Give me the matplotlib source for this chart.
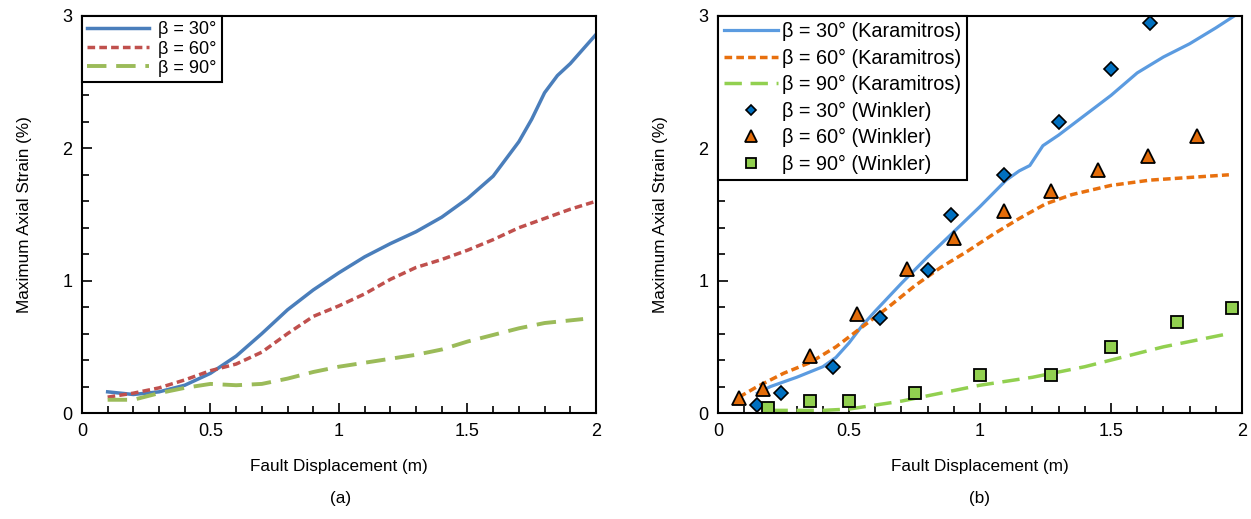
import matplotlib
matplotlib.use('Agg')
import matplotlib.pyplot as plt
from matplotlib.ticker import MultipleLocator

plt.rcParams['font.family'] = ['Liberation Sans', 'DejaVu Sans']
plt.rcParams['font.size'] = 12

# --- panel (a) data ---
xa_30 = [0.1, 0.2, 0.3, 0.4, 0.5, 0.6, 0.7, 0.8, 0.9, 1.0, 1.1, 1.2, 1.3, 1.4,
         1.5, 1.6, 1.7, 1.75, 1.8, 1.85, 1.9, 1.95, 2.0]
ya_30 = [0.16, 0.14, 0.16, 0.21, 0.30, 0.43, 0.60, 0.78, 0.93, 1.06, 1.18, 1.28,
         1.37, 1.48, 1.62, 1.79, 2.05, 2.22, 2.42, 2.55, 2.64, 2.75, 2.86]
xa_60 = [0.1, 0.2, 0.3, 0.4, 0.5, 0.6, 0.7, 0.8, 0.9, 1.0, 1.1, 1.2, 1.3, 1.4,
         1.5, 1.6, 1.7, 1.8, 1.9, 2.0]
ya_60 = [0.12, 0.15, 0.19, 0.25, 0.32, 0.37, 0.46, 0.60, 0.73, 0.81, 0.90, 1.01,
         1.10, 1.16, 1.23, 1.31, 1.40, 1.47, 1.54, 1.60]
xa_90 = [0.1, 0.2, 0.3, 0.4, 0.5, 0.6, 0.7, 0.8, 0.9, 1.0, 1.1, 1.2, 1.3, 1.4,
         1.5, 1.6, 1.7, 1.8, 1.9, 1.95]
ya_90 = [0.10, 0.10, 0.15, 0.19, 0.22, 0.21, 0.22, 0.26, 0.31, 0.35, 0.38, 0.41,
         0.44, 0.48, 0.54, 0.59, 0.64, 0.68, 0.70, 0.71]

# --- panel (b) data: Karamitros curves ---
xk_30 = [0.15, 0.2, 0.3, 0.4, 0.45, 0.5, 0.55, 0.6, 0.7, 0.8, 0.9, 1.0, 1.1,
         1.15, 1.19, 1.21, 1.24, 1.3, 1.4, 1.5, 1.6, 1.7, 1.8, 1.9, 1.97]
yk_30 = [0.15, 0.20, 0.27, 0.35, 0.42, 0.53, 0.66, 0.77, 0.98, 1.18, 1.37, 1.56,
         1.76, 1.83, 1.87, 1.93, 2.02, 2.10, 2.25, 2.40, 2.57, 2.69, 2.79, 2.91, 3.0]
xk_60 = [0.08, 0.15, 0.25, 0.35, 0.45, 0.55, 0.65, 0.75, 0.85, 0.95, 1.05,
         1.15, 1.25, 1.35, 1.5, 1.65, 1.8, 1.95]
yk_60 = [0.12, 0.20, 0.30, 0.38, 0.50, 0.65, 0.80, 0.96, 1.10, 1.22, 1.35,
         1.47, 1.58, 1.65, 1.72, 1.76, 1.78, 1.80]
xk_90 = [0.2, 0.3, 0.4, 0.5, 0.6, 0.7, 0.8, 0.9, 1.0, 1.2, 1.4, 1.5, 1.7, 1.95]
yk_90 = [0.02, 0.02, 0.02, 0.03, 0.06, 0.09, 0.13, 0.17, 0.21, 0.27, 0.35, 0.40,
         0.50, 0.60]

# --- panel (b) data: Winkler points ---
xw_30 = [0.15, 0.24, 0.44, 0.62, 0.80, 0.89, 1.09, 1.30, 1.50, 1.65]
yw_30 = [0.06, 0.15, 0.35, 0.72, 1.08, 1.50, 1.80, 2.20, 2.60, 2.95]
xw_60 = [0.08, 0.17, 0.35, 0.53, 0.72, 0.90, 1.09, 1.27, 1.45, 1.64, 1.83]
yw_60 = [0.11, 0.18, 0.43, 0.75, 1.09, 1.32, 1.53, 1.68, 1.84, 1.94, 2.09]
xw_90 = [0.19, 0.35, 0.50, 0.75, 1.00, 1.27, 1.50, 1.75, 1.96]
yw_90 = [0.04, 0.09, 0.09, 0.15, 0.29, 0.29, 0.50, 0.69, 0.79]

x_ticks = [0, 0.5, 1, 1.5, 2]
x_labels = ['0', '0.5', '1', '1.5', '2']
y_ticks = [0, 1, 2, 3]
y_labels = ['0', '1', '2', '3']


def style_axes(ax):
    ax.set_xlim(0, 2)
    ax.set_ylim(0, 3)
    ax.set_xticks(x_ticks)
    ax.set_xticklabels(x_labels)
    ax.set_yticks(y_ticks)
    ax.set_yticklabels(y_labels)
    ax.xaxis.set_minor_locator(MultipleLocator(0.1))
    ax.yaxis.set_minor_locator(MultipleLocator(0.2))
    ax.tick_params(which='both', direction='in', top=False, right=False,
                   labelsize=13, width=1.2, pad=7)
    ax.tick_params(which='major', length=7)
    ax.tick_params(which='minor', length=5)
    for sp in ax.spines.values():
        sp.set_linewidth(1.5)
    ax.set_xlabel('Fault Displacement (m)', fontsize=12.3, labelpad=14)
    ax.set_ylabel('Maximum Axial Strain (%)', fontsize=12.3, labelpad=22)


def frame_legend(leg):
    fr = leg.get_frame()
    fr.set_edgecolor('black')
    fr.set_linewidth(1.5)
    fr.set_alpha(1)


fig = plt.figure(figsize=(12.51, 5.19), dpi=100)
ax1 = fig.add_axes([0.0655, 0.2042, 0.4109, 0.765])
ax2 = fig.add_axes([0.574, 0.2042, 0.4188, 0.765])

# panel (a)
ax1.plot(xa_30, ya_30, color='#4a7ebb', lw=2.5, label='β = 30°')
ax1.plot(xa_60, ya_60, color='#c0504d', lw=2.5, dashes=(2.2, 1.2), label='β = 60°')
ax1.plot(xa_90, ya_90, color='#9bbb59', lw=2.8, dashes=(5, 2.5), label='β = 90°')
style_axes(ax1)
leg1 = ax1.legend(loc='upper left', fontsize=13, frameon=True, fancybox=False,
                  borderaxespad=0, handlelength=3.4, labelspacing=0.12,
                  borderpad=0.3, handletextpad=0.5)
frame_legend(leg1)

# panel (b)
ax2.plot(xk_30, yk_30, color='#5b9be0', lw=2.3, label='β = 30° (Karamitros)')
ax2.plot(xk_60, yk_60, color='#e8700e', lw=2.5, dashes=(2.2, 1.2), label='β = 60° (Karamitros)')
ax2.plot(xk_90, yk_90, color='#92d050', lw=2.5, dashes=(5, 2.5), label='β = 90° (Karamitros)')
ax2.plot(xw_30, yw_30, 'D', ms=7, mfc='#0070c0', mec='black', mew=1.2,
         ls='none', label='β = 30° (Winkler)')
ax2.plot(xw_60, yw_60, '^', ms=10, mfc='#e36c09', mec='black', mew=1.3,
         ls='none', label='β = 60° (Winkler)')
ax2.plot(xw_90, yw_90, 's', ms=9, mfc='#92d050', mec='black', mew=1.3,
         ls='none', label='β = 90° (Winkler)')
style_axes(ax2)
leg2 = ax2.legend(loc='upper left', fontsize=14.3, frameon=True, fancybox=False,
                  borderaxespad=0, handlelength=2.7, labelspacing=0.38,
                  borderpad=0.3, handletextpad=0.2, markerscale=0.8)
frame_legend(leg2)

fig.text(0.272, 0.03, '(a)', ha='center', fontsize=12.3)
fig.text(0.783, 0.03, '(b)', ha='center', fontsize=12.3)

fig.savefig('out.png', dpi=100)
